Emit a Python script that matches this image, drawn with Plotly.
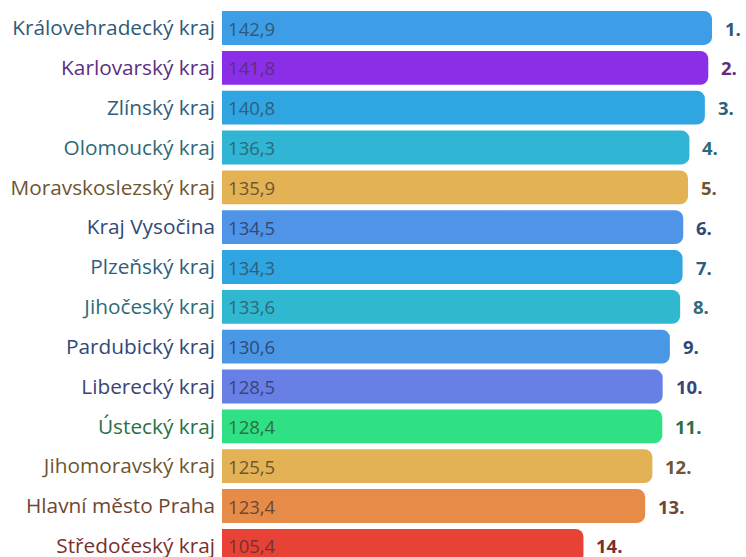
import plotly.graph_objects as go

regions = ["Královehradecký kraj", "Karlovarský kraj", "Zlínský kraj", "Olomoucký kraj",
           "Moravskoslezský kraj", "Kraj Vysočina", "Plzeňský kraj", "Jihočeský kraj",
           "Pardubický kraj", "Liberecký kraj", "Ústecký kraj", "Jihomoravský kraj",
           "Hlavní město Praha", "Středočeský kraj"]
values = [142.9, 141.8, 140.8, 136.3, 135.9, 134.5, 134.3, 133.6, 130.6, 128.5, 128.4, 125.5, 123.4, 105.4]
ranks = ["1.", "2.", "3.", "4.", "5.", "6.", "7.", "8.", "9.", "10.", "11.", "12.", "13.", "14."]
bar_colors = ["#3d9de6", "#8a2ee8", "#2fa5e2", "#30b6d4", "#e3b254", "#5094e8", "#2fa5e2",
              "#30b8d0", "#4a97e6", "#6880e6", "#30e084", "#e3b254", "#e68c48", "#e84236"]
text_colors = ["#2f5a78", "#5c2f82", "#2f5f7c", "#2f6a78", "#6e5632", "#2f4a78", "#2f5f7c",
               "#2f6a78", "#2f4a78", "#3a4478", "#2a7048", "#6e5632", "#6e4632", "#7a2f2f"]

value_labels = ["\u2009" + f"{v:.1f}".replace(".", ",") for v in values]
tick_text = [f'<span style="color:{c}">{r}</span>' for r, c in zip(regions, text_colors)]

FONT = "Open Sans"

fig = go.Figure()
fig.add_trace(go.Bar(
    x=values, y=regions, orientation="h",
    marker=dict(color=bar_colors, cornerradius=8, line=dict(width=0)),
    width=0.85,
    text=value_labels, textposition="inside", insidetextanchor="start",
    textfont=dict(family=FONT, size=18.5, color=text_colors),
    constraintext="none",
    hoverinfo="skip",
))

for r, v, c, rk in zip(regions, values, text_colors, ranks):
    fig.add_annotation(x=v, y=r, text=f"<b>{rk}</b>", showarrow=False,
                       xanchor="left", xshift=11, font=dict(family=FONT, size=18.5, color=c))

fig.update_layout(
    width=746, height=557,
    margin=dict(l=222, r=0, t=0, b=0, autoexpand=False),
    paper_bgcolor="white", plot_bgcolor="white",
    showlegend=False,
    xaxis=dict(range=[0, 152.8], visible=False, fixedrange=True, automargin=False),
    yaxis=dict(range=[13.28, -0.703], tickmode="array", tickvals=regions, ticktext=tick_text,
               tickfont=dict(family=FONT, size=20.8), ticks="", showline=False, showgrid=False,
               ticklabelstandoff=6, fixedrange=True, automargin=False),
    font=dict(family=FONT),
)

fig.write_html("out.html", config={"displayModeBar": False},
               post_script="document.body.style.margin='0';document.body.style.overflow='hidden';")
